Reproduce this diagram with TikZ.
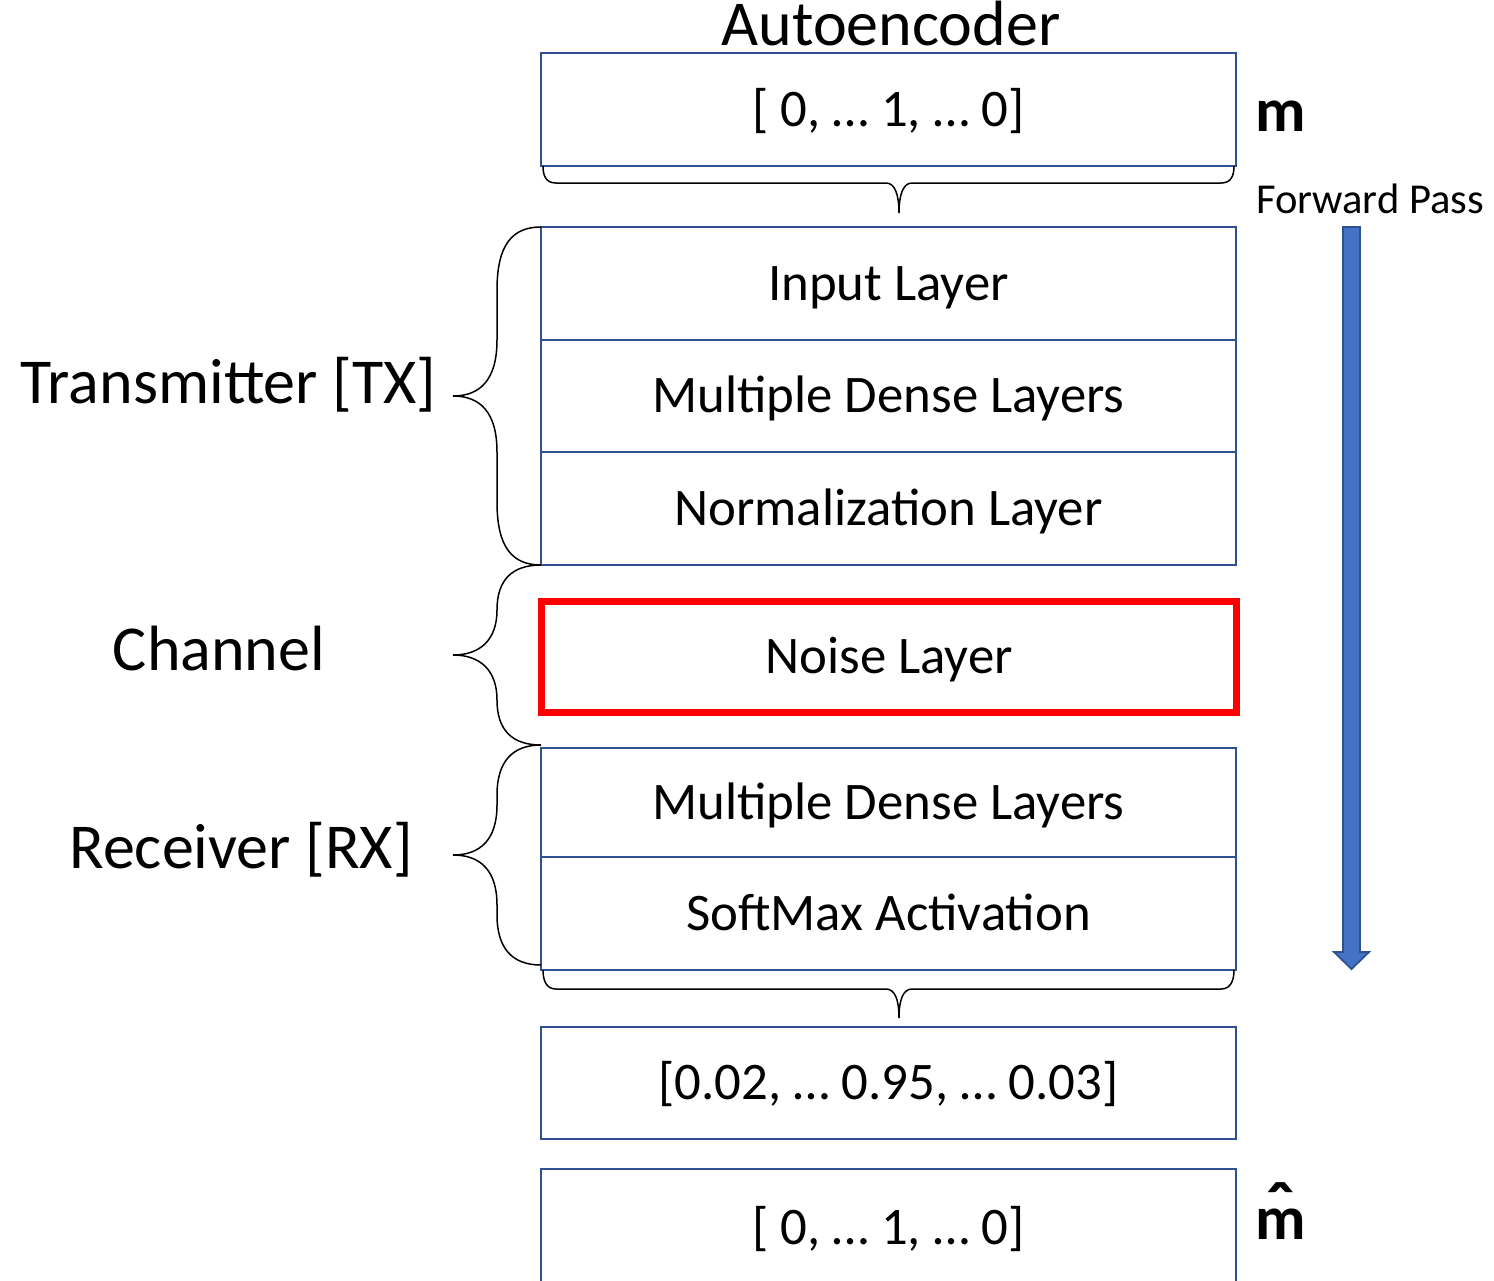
\documentclass[tikz,border=0pt]{standalone}
\usepackage{fontspec}
\setmainfont{Carlito}
\definecolor{boxblue}{RGB}{47,82,143}
\definecolor{arrowfill}{RGB}{68,114,196}
\begin{document}
\begin{tikzpicture}[x=0.5pt,y=-0.5pt,
  layerbox/.style={draw=boxblue, line width=1.1pt, minimum width=347.5pt, inner sep=0pt,
     font=\fontsize{26.4}{30}\selectfont, text height=16.7pt, text depth=0pt},
  noisebox/.style={draw=red, line width=3.5pt, minimum width=347.5pt, minimum height=55.5pt, inner sep=0pt,
     font=\fontsize{26.4}{30}\selectfont, text height=16.7pt, text depth=0pt},
  biglabel/.style={font=\fontsize{32}{36}\selectfont, text height=20.3pt, text depth=0pt, inner sep=0pt},
  bracestyle/.style={draw=black, line width=0.75pt},
  arrowstyle/.style={fill=arrowfill, draw=boxblue, line width=0.9pt, line join=miter}]
\useasboundingbox (0,0) rectangle (1494,1280);
\fill[white] (0,0) rectangle (1494,1280);

% title
\node[biglabel] (title) at (891,25) {Autoencoder};

% boxes
\node[layerbox, minimum height=56.5pt] (m) at (888.5,109.5) {[ 0, … 1, … 0]};
\node[layerbox, minimum height=56.5pt] (in) at (888.5,283.5) {Input Layer};
\node[layerbox, minimum height=56pt] (d1) at (888.5,396) {Multiple Dense Layers};
\node[layerbox, minimum height=56.5pt] (norm) at (888.5,508.5) {Normalization Layer};
\node[noisebox] (noise) at (889,657) {Noise Layer};
\node[layerbox, minimum height=54.5pt] (d2) at (888.5,802.5) {Multiple Dense Layers};
\node[layerbox, minimum height=56.5pt] (soft) at (888.5,913.5) {SoftMax Activation};
\node[layerbox, minimum height=56pt] (out) at (888.5,1083) {[0.02, … 0.95, … 0.03]};
\node[layerbox, minimum height=70pt] (mh) at (888.5,1239) {};
\node[font=\fontsize{26.4}{30}\selectfont, text height=16.7pt, text depth=0pt, inner sep=0pt] (mhtext) at (888.5,1228) {[ 0, … 1, … 0]};

% right labels
\node[font=\bfseries\fontsize{31}{36}\selectfont, inner sep=0pt, anchor=base] (mlab) at (1281,131) {m};
\node[font=\bfseries\fontsize{31}{36}\selectfont, inner sep=0pt, anchor=base] (mhlab) at (1281,1239)
  {\ooalign{m\cr\hfil\raisebox{0.08em}{\fontsize{38}{40}\selectfont ˆ}\hfil\cr}};
\node[font=\fontsize{21.3}{24}\selectfont, text height=13.5pt, text depth=0pt, inner sep=0pt] (fp) at (1370,199.5) {Forward Pass};

% left labels
\node[biglabel] (tx) at (228.5,383.5) {Transmitter [TX]};
\node[biglabel] (ch) at (219,650) {Channel};
\node[biglabel] (rx) at (241,848) {Receiver [RX]};

% forward pass arrow
\path[arrowstyle] (1343,227) -- (1360,227) -- (1360,952) -- (1369,952) -- (1351.5,969) -- (1334,952) -- (1343,952) -- cycle;

% braces left
\path[bracestyle] (541,227) .. controls (512,227) and (497,245) .. (497,290) -- (497,340)
  .. controls (497,380) and (480,396) .. (453,396)
  .. controls (480,396) and (497,412) .. (497,452) -- (497,502)
  .. controls (497,547) and (512,565) .. (541,565);
\path[bracestyle] (541,565) .. controls (512,565) and (497,580) .. (497,610)
  .. controls (497,640) and (480,655) .. (453,655)
  .. controls (480,655) and (497,670) .. (497,700)
  .. controls (497,730) and (512,745) .. (541,745);
\path[bracestyle] (541,745) .. controls (512,745) and (497,762) .. (497,795) -- (497,805)
  .. controls (497,840) and (480,855) .. (453,855)
  .. controls (480,855) and (497,870) .. (497,905) -- (497,915)
  .. controls (497,948) and (512,965) .. (541,965);

% braces horizontal
\path[bracestyle] (543,166) .. controls (543,176) and (546,183) .. (556,183) -- (886,183)
  .. controls (895,183) and (899,195) .. (899,213)
  .. controls (899,195) and (903,183) .. (912,183) -- (1221,183)
  .. controls (1231,183) and (1234,176) .. (1234,166);
\path[bracestyle] (543,970) .. controls (543,980) and (546,989) .. (556,989) -- (886,989)
  .. controls (895,989) and (899,1000) .. (899,1018)
  .. controls (899,1000) and (903,989) .. (912,989) -- (1221,989)
  .. controls (1231,989) and (1234,980) .. (1234,970);
\end{tikzpicture}
\end{document}
